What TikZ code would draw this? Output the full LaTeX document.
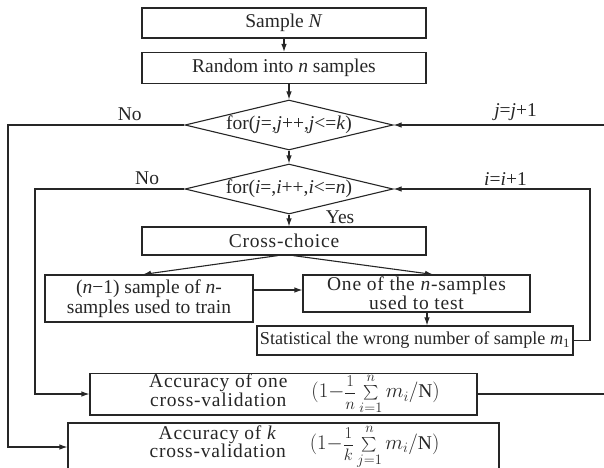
\documentclass[tikz,border=0pt]{standalone}
\usepackage{exscale}
\usepackage{fontspec}
\setmainfont{Liberation Serif}
\newfontfamily\spacedfont[LetterSpace=4]{Liberation Serif}
\usetikzlibrary{shapes.geometric,arrows.meta}
\newcommand\twoline[2]{\begin{tabular}{@{}c@{}}#1\\#2\end{tabular}}
\newcommand\accfrac[1]{\scalebox{0.8}{$\displaystyle\frac{1}{#1}$}}
\newcommand\accsum{\mathop{\vcenter{\hbox{\scalebox{0.7}{$\textstyle\sum$}}}}\limits}

\begin{document}
\begin{tikzpicture}[
  x=1pt, y=-1pt, line width=1.1pt, color=black!85,
  >={Latex[length=8pt,width=5.5pt]},
  txt/.style={font=\fontsize{19.5}{20}\selectfont},
  wide/.style={font=\spacedfont\fontsize{19.5}{17.5}\selectfont},
  box/.style={draw, rectangle, inner sep=0pt, align=center, txt},
  cond/.style={draw, diamond, inner sep=0pt, shape aspect=4.5,
               minimum width=208pt, minimum height=50pt, txt}
]
\clip (0,0) rectangle (604,467);
% ---- main column ---------------------------------------------------------
\node[box, minimum width=284pt, minimum height=30pt] (sample) at (284,23) {Sample \textit{N}};
\node[box, minimum width=284pt, minimum height=31pt] (random) at (284,68) {Random into \textit{n} samples};
\node[cond] (dj) at (289,125) {for(\textit{j}=,\textit{j}++,\textit{j}<=\textit{k})};
\node[cond] (di) at (289,189) {for(\textit{i}=,\textit{i}++,\textit{i}<=\textit{n})};
\node[box, wide, minimum width=284pt, minimum height=28pt] (cross) at (284,241) {Cross-choice};

% ---- train / test --------------------------------------------------------
\node[box, minimum width=208pt, minimum height=47pt] (train) at (149,298.5)
  {(\textit{n}−1) sample of \textit{n}-\\samples used to train};
\node[box, wide, minimum width=227pt, minimum height=37pt] (test) at (416.5,293.5)
  {One of the \textit{n}-samples\\used to test};
\node[box, minimum width=316pt, minimum height=29pt, font=\fontsize{18.2}{18}\selectfont] (stat) at (415,340.5)
  {Statistical the wrong number of sample \textit{m}\textsubscript{1}};

% ---- accuracies ----------------------------------------------------------
\node[box, wide, minimum width=387pt, minimum height=34pt] (accone) at (283.5,394)
  {\hspace*{22pt}\twoline{Accuracy of one}{cross-validation}\hspace{24pt}%
   $(1{-}\accfrac{n}\accsum_{i=1}^{n}m_i/\mathrm{N})$};
\node[box, wide, minimum width=431pt, minimum height=48pt] (acck) at (283.5,447)
  {\hspace*{22pt}\twoline{Accuracy of \textit{k}}{cross-validation}\hspace{24pt}%
   $(1{-}\accfrac{k}\accsum_{j=1}^{n}m_i/\mathrm{N})$};

% ---- loop corners --------------------------------------------------------
\coordinate (jout) at (8,125);
\coordinate (iout) at (35,189);
\coordinate (jin) at (604,125);
\coordinate (iloop) at (590,189);
\coordinate (aout) at (604,394);

% ---- connectors ----------------------------------------------------------
\draw[->] (sample.south) -- (random.north);
\draw[->] (dj.north |- random.south) -- (dj.north);
\draw[->] (dj.south) -- (di.north);
\draw[->] (di.south) -- node[txt, pos=0.2, anchor=west, xshift=33pt] {Yes} (di.south |- cross.north);
\draw[->] ([xshift=-6pt]cross.south) -- ([xshift=-6pt]train.north);
\draw[->] ([xshift=9pt]cross.south) -- ([xshift=16.5pt]test.north);
\draw[->] ([yshift=8.5pt]train.east) -- ([yshift=8.5pt]train.east -| test.west);
\draw[->] ([xshift=10.5pt]test.south) -- ([xshift=10.5pt]test.south |- stat.north);
\draw[->] (stat.east) -| (iloop) -- node[txt, above, pos=0.43] {\textit{i}=\textit{i}+1} (di.east);
\draw[->] (jin) -- node[txt, above, pos=0.42] {\textit{j}=\textit{j}+1} (dj.east);
\draw[->] (dj.west) -- node[txt, above, pos=0.31] {No} (jout) |- (acck.west);
\draw[->] (di.west) -- node[txt, above, pos=0.25] {No} (iout) |- (accone.west);
\draw (accone.east) -- (aout);
\end{tikzpicture}
\end{document}
